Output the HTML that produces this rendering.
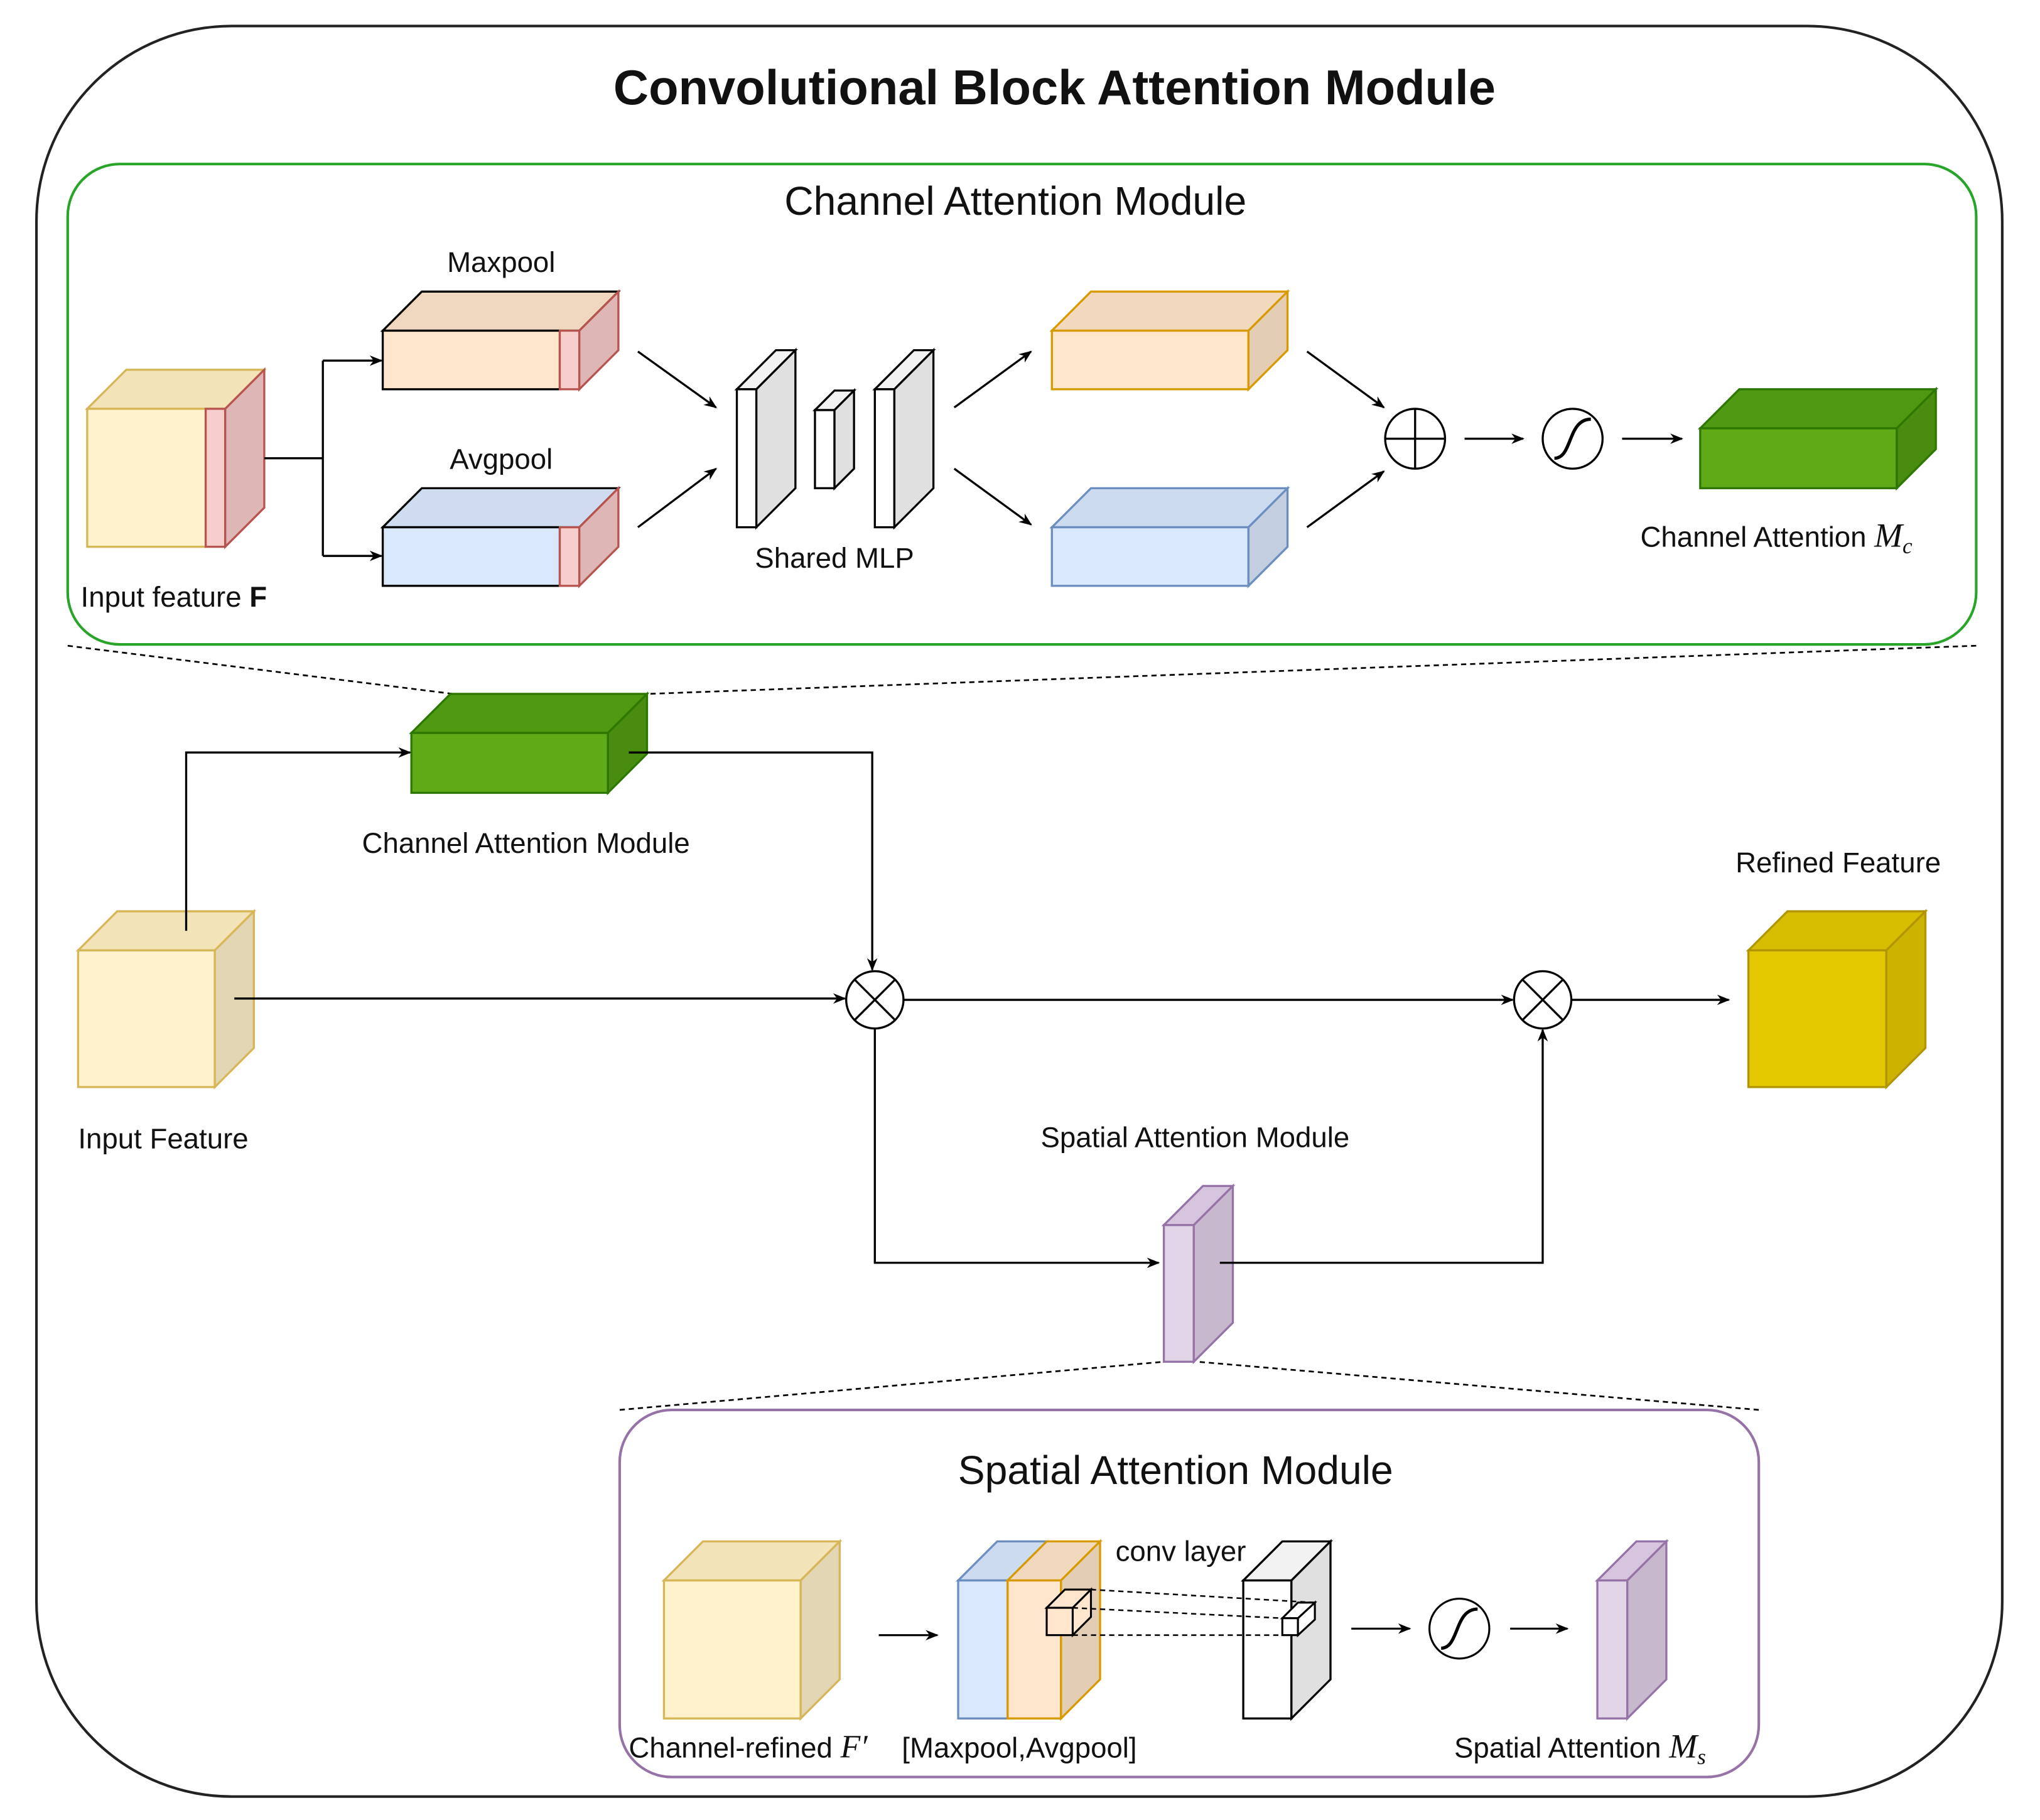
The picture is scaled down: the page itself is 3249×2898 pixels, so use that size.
<!DOCTYPE html>
<html><head><meta charset="utf-8"><style>html,body{margin:0;padding:0;background:#fff}svg{display:block}text{font-family:"Liberation Sans",sans-serif;fill:#111}</style></head>
<body>
<svg width="3249" height="2898" viewBox="0 0 1567 1398" preserveAspectRatio="none" xmlns="http://www.w3.org/2000/svg">
<defs><marker id="a" markerWidth="10" markerHeight="10" refX="9" refY="5" orient="auto" markerUnits="userSpaceOnUse"><path d="M0,1 L10,5 L0,9 L3,5 z" fill="#000"/></marker></defs>
<rect x="28" y="20" width="1510" height="1360" rx="150" fill="#fff" stroke="#222" stroke-width="2"/>
<text x="810" y="80" font-size="37.5" font-weight="bold" text-anchor="middle">Convolutional Block Attention Module</text>
<rect x="52" y="126" width="1466" height="369" rx="40" fill="none" stroke="#28a428" stroke-width="2"/>
<text x="780" y="165" font-size="31" text-anchor="middle">Channel Attention Module</text>
<g stroke-width="1.6">
<polygon points="67,314 97,284 203,284 173,314" fill="#f2e3b8" stroke="#d6b656"/>
<rect x="67" y="314" width="91" height="106" fill="#fff2cc" stroke="#d6b656"/>
<rect x="158" y="314" width="15" height="106" fill="#f8cecc" stroke="#b85450"/>
<polygon points="173,314 203,284 203,390 173,420" fill="#deb6b5" stroke="#b85450"/>
<polygon points="294,254 324,224 475,224 445,254" fill="#f0d8c0" stroke="#000"/>
<rect x="294" y="254" width="136" height="45" fill="#ffe6cc" stroke="#000"/>
<rect x="430" y="254" width="15" height="45" fill="#f8cecc" stroke="#b85450"/>
<polygon points="445,254 475,224 475,269 445,299" fill="#deb6b5" stroke="#b85450"/>
<polygon points="294,405 324,375 475,375 445,405" fill="#cfdcf0" stroke="#000"/>
<rect x="294" y="405" width="136" height="45" fill="#dae8fc" stroke="#000"/>
<rect x="430" y="405" width="15" height="45" fill="#f8cecc" stroke="#b85450"/>
<polygon points="445,405 475,375 475,420 445,450" fill="#deb6b5" stroke="#b85450"/>
<polygon points="566,299 596,269 611,269 581,299" fill="#f2f2f2" stroke="#000"/>
<rect x="566" y="299" width="15" height="106" fill="#fff" stroke="#000"/>
<polygon points="581,299 611,269 611,375 581,405" fill="#e0e0e0" stroke="#000"/>
<polygon points="626,315 641,300 656,300 641,315" fill="#f2f2f2" stroke="#000"/>
<rect x="626" y="315" width="15" height="60" fill="#fff" stroke="#000"/>
<polygon points="641,315 656,300 656,360 641,375" fill="#e0e0e0" stroke="#000"/>
<polygon points="672,299 702,269 717,269 687,299" fill="#f2f2f2" stroke="#000"/>
<rect x="672" y="299" width="15" height="106" fill="#fff" stroke="#000"/>
<polygon points="687,299 717,269 717,375 687,405" fill="#e0e0e0" stroke="#000"/>
<polygon points="808,254 838,224 989,224 959,254" fill="#f2d8bd" stroke="#d79b00"/>
<rect x="808" y="254" width="151" height="45" fill="#ffe6cc" stroke="#d79b00"/>
<polygon points="959,254 989,224 989,269 959,299" fill="#e3cdb5" stroke="#d79b00"/>
<polygon points="808,405 838,375 989,375 959,405" fill="#cddbf0" stroke="#6c8ebf"/>
<rect x="808" y="405" width="151" height="45" fill="#dae8fc" stroke="#6c8ebf"/>
<polygon points="959,405 989,375 989,420 959,450" fill="#c3cfe0" stroke="#6c8ebf"/>
<polygon points="1306,329 1336,299 1487,299 1457,329" fill="#4f9a12" stroke="#2d7600"/>
<rect x="1306" y="329" width="151" height="46" fill="#60a917" stroke="#2d7600"/>
<polygon points="1457,329 1487,299 1487,345 1457,375" fill="#4a8c10" stroke="#2d7600"/>
</g>
<g stroke="#000" stroke-width="1.6" fill="none">
<path d="M203,352 H248 M248,277 V427"/>
<path d="M248,277 H293" marker-end="url(#a)"/><path d="M248,427 H293" marker-end="url(#a)"/>
<path d="M490,270 L550,313" marker-end="url(#a)"/><path d="M490,405 L550,360" marker-end="url(#a)"/>
<path d="M733,313 L792,270" marker-end="url(#a)"/><path d="M733,360 L792,403" marker-end="url(#a)"/>
<path d="M1004,270 L1063,313" marker-end="url(#a)"/><path d="M1004,405 L1063,362" marker-end="url(#a)"/>
<circle cx="1087" cy="337" r="23" fill="#fff"/><path d="M1064,337 H1110 M1087,314 V360"/>
<path d="M1125,337 H1170" marker-end="url(#a)"/>
<circle cx="1208" cy="337" r="23" fill="#fff"/><path d="M1194,352 C1208,352 1204,322 1222,322" stroke-width="2.5"/>
<path d="M1246,337 H1292" marker-end="url(#a)"/>
</g>
<g font-size="22">
<text x="1260" y="420">Channel Attention <tspan font-family="Liberation Serif" font-style="italic" font-size="26">M</tspan><tspan font-family="Liberation Serif" font-style="italic" font-size="17" dy="5">c</tspan></text>
<text x="62" y="466">Input feature <tspan font-weight="bold">F</tspan></text>
<text x="385" y="209" text-anchor="middle">Maxpool</text>
<text x="385" y="360" text-anchor="middle">Avgpool</text>
<text x="641" y="436" text-anchor="middle">Shared MLP</text>
</g>
<g stroke="#000" stroke-width="1.3" stroke-dasharray="4,3" fill="none">
<path d="M52,496 L348,533 M1518,496 L498,533"/>
<path d="M476,1083 L894,1046 M1351,1083 L920,1046"/>
</g>
<g stroke-width="1.6">
<polygon points="316,563 346,533 497,533 467,563" fill="#4f9a12" stroke="#2d7600"/>
<rect x="316" y="563" width="151" height="46" fill="#60a917" stroke="#2d7600"/>
<polygon points="467,563 497,533 497,579 467,609" fill="#4a8c10" stroke="#2d7600"/>
<polygon points="60,730 90,700 195,700 165,730" fill="#f2e3b8" stroke="#d6b656"/>
<rect x="60" y="730" width="105" height="105" fill="#fff2cc" stroke="#d6b656"/>
<polygon points="165,730 195,700 195,805 165,835" fill="#e3d6b5" stroke="#d6b656"/>
<polygon points="1343,730 1373,700 1479,700 1449,730" fill="#d7bd00" stroke="#b09500"/>
<rect x="1343" y="730" width="106" height="105" fill="#e3c800" stroke="#b09500"/>
<polygon points="1449,730 1479,700 1479,805 1449,835" fill="#cbb300" stroke="#b09500"/>
<polygon points="894,941 924,911 947,911 917,941" fill="#d6c3dd" stroke="#9673a6"/>
<rect x="894" y="941" width="23" height="105" fill="#e1d5e7" stroke="#9673a6"/>
<polygon points="917,941 947,911 947,1016 917,1046" fill="#c8b8ce" stroke="#9673a6"/>
</g>
<g stroke="#000" stroke-width="1.6" fill="none">
<path d="M143,715 V578 H315" marker-end="url(#a)"/>
<path d="M483,578 H670 V745" marker-end="url(#a)"/>
<path d="M180,767 H649" marker-end="url(#a)"/>
<circle cx="672" cy="768" r="22" fill="#fff"/><path d="M656,752 L688,784 M688,752 L656,784"/>
<path d="M694,768 H1162" marker-end="url(#a)"/>
<circle cx="1185" cy="768" r="22" fill="#fff"/><path d="M1169,752 L1201,784 M1201,752 L1169,784"/>
<path d="M1207,768 H1328" marker-end="url(#a)"/>
<path d="M672,790 V970 H890" marker-end="url(#a)"/>
<path d="M937,970 H1185 V791" marker-end="url(#a)"/>
</g>
<g font-size="22">
<text x="404" y="655" text-anchor="middle">Channel Attention Module</text>
<text x="60" y="882">Input Feature</text>
<text x="1412" y="670" text-anchor="middle">Refined Feature</text>
<text x="918" y="881" text-anchor="middle">Spatial Attention Module</text>
</g>
<rect x="476" y="1083" width="875" height="282" rx="40" fill="none" stroke="#9673a6" stroke-width="2"/>
<text x="903" y="1140" font-size="31" text-anchor="middle">Spatial Attention Module</text>
<g stroke-width="1.6">
<polygon points="510,1214 540,1184 645,1184 615,1214" fill="#f2e3b8" stroke="#d6b656"/>
<rect x="510" y="1214" width="105" height="106" fill="#fff2cc" stroke="#d6b656"/>
<polygon points="615,1214 645,1184 645,1290 615,1320" fill="#e3d6b5" stroke="#d6b656"/>
<polygon points="736,1214 766,1184 804,1184 774,1214" fill="#cddbf0" stroke="#6c8ebf"/>
<rect x="736" y="1214" width="38" height="106" fill="#dae8fc" stroke="#6c8ebf"/>
<polygon points="774,1214 804,1184 845,1184 815,1214" fill="#f2d8bd" stroke="#d79b00"/>
<rect x="774" y="1214" width="41" height="106" fill="#ffe6cc" stroke="#d79b00"/>
<polygon points="815,1214 845,1184 845,1290 815,1320" fill="#e3cdb5" stroke="#d79b00"/>
<polygon points="955,1214 985,1184 1022,1184 992,1214" fill="#f2f2f2" stroke="#000"/>
<rect x="955" y="1214" width="37" height="106" fill="#fff" stroke="#000"/>
<polygon points="992,1214 1022,1184 1022,1290 992,1320" fill="#e0e0e0" stroke="#000"/>
<polygon points="1227,1214 1257,1184 1280,1184 1250,1214" fill="#d6c3dd" stroke="#9673a6"/>
<rect x="1227" y="1214" width="23" height="106" fill="#e1d5e7" stroke="#9673a6"/>
<polygon points="1250,1214 1280,1184 1280,1290 1250,1320" fill="#c8b8ce" stroke="#9673a6"/>
</g>
<g stroke="#000" stroke-width="1.5" fill="none">
<polygon points="804,1235 818,1221 838,1221 824,1235" fill="#ffe6cc"/>
<rect x="804" y="1235" width="20" height="21" fill="#ffe6cc"/>
<polygon points="824,1235 838,1221 838,1242 824,1256" fill="#ffe6cc"/>
<polygon points="985,1243 997,1231 1010,1231 998,1243" fill="#fff"/>
<rect x="985" y="1243" width="12" height="13" fill="#fff"/>
<polygon points="997,1243 1010,1231 1010,1244 997,1256" fill="#fff"/>
<path d="M838,1221 L1010,1231 M824,1235 L985,1243 M824,1256 L985,1256" stroke-dasharray="4,3" stroke-width="1.2"/>
<path d="M675,1256 H720" marker-end="url(#a)"/>
<path d="M1038,1251 H1083" marker-end="url(#a)"/>
<circle cx="1121" cy="1251" r="23" fill="#fff"/><path d="M1107,1266 C1121,1266 1117,1236 1135,1236" stroke-width="2.5"/>
<path d="M1160,1251 H1204" marker-end="url(#a)"/>
</g>
<g font-size="22">
<text x="907" y="1199" text-anchor="middle">conv layer</text>
<text x="483" y="1350">Channel-refined <tspan font-family="Liberation Serif" font-style="italic" font-size="25">F′</tspan></text>
<text x="783" y="1350" text-anchor="middle">[Maxpool,Avgpool]</text>
<text x="1117" y="1350">Spatial Attention <tspan font-family="Liberation Serif" font-style="italic" font-size="26">M</tspan><tspan font-family="Liberation Serif" font-style="italic" font-size="17" dy="5">s</tspan></text>
</g>
</svg>
</body></html>
